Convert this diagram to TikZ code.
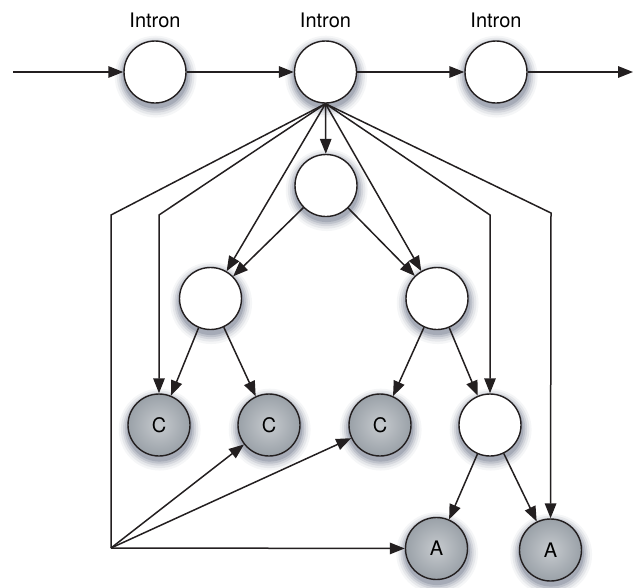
\documentclass[tikz,border=0pt]{standalone}
\usepackage{fontspec}
\setmainfont{TeX Gyre Heros}
\usetikzlibrary{arrows.meta,shadows}
\definecolor{shadowcol}{HTML}{3A4560}
\definecolor{grayin}{HTML}{C6CACE}
\definecolor{grayout}{HTML}{9AA1A8}
\definecolor{ink}{HTML}{231F20}
\begin{document}
\begin{tikzpicture}[x=1pt,y=-1pt,
  % soft halo built from stacked translucent discs
  softshadow/.style={
    general shadow={shadow xshift=0.5pt, shadow yshift=-3.5pt, shadow scale=1.32, fill=shadowcol, opacity=0.05},
    general shadow={shadow xshift=0.5pt, shadow yshift=-3.5pt, shadow scale=1.25, fill=shadowcol, opacity=0.08},
    general shadow={shadow xshift=0.5pt, shadow yshift=-3.5pt, shadow scale=1.18, fill=shadowcol, opacity=0.11},
    general shadow={shadow xshift=0.5pt, shadow yshift=-3.5pt, shadow scale=1.12, fill=shadowcol, opacity=0.14},
    general shadow={shadow xshift=0.5pt, shadow yshift=-3.5pt, shadow scale=1.06, fill=shadowcol, opacity=0.18}
  },
  state/.style={circle, draw=ink, line width=1.4pt, minimum size=62pt,
    inner sep=0pt, fill=white, softshadow},
  term/.style={state, inner color=grayin, outer color=grayout,
    font=\fontsize{20}{24}\selectfont},
  lbl/.style={font=\fontsize{20}{24}\selectfont, inner sep=0pt},
  edge/.style={line width=1.5pt, draw=ink, line join=miter,
    -{Triangle[length=15pt,width=11.5pt]}},
  link/.style={line width=1.5pt, draw=ink, line join=miter}
]
\useasboundingbox (0,0) rectangle (635,587);

% top chain
\node[state] (I1) at (155,72) {};
\node[state] (I2) at (325.5,72) {};
\node[state] (I3) at (496,72) {};
\node[lbl] (t1) at (155,20) {Intron};
\node[lbl] (t2) at (325.5,20) {Intron};
\node[lbl] (t3) at (496,20) {Intron};

% inner nodes
\node[state] (M) at (326,185.5) {};
\node[state] (L) at (210.5,298.5) {};
\node[state] (R) at (437,298.5) {};
\node[state] (W) at (490,425) {};

% terminal nodes
\node[term] (C1) at (159,425) {C};
\node[term] (C2) at (269,425) {C};
\node[term] (C3) at (380,425) {C};
\node[term] (A1) at (436.5,548.5) {A};
\node[term] (A2) at (550.5,550) {A};

% free ends and bends
\coordinate (in0) at (13,72);
\coordinate (out0) at (633,72);
\coordinate (b1) at (111,215);
\coordinate (b2) at (159,215);
\coordinate (b3) at (490,215);
\coordinate (b4) at (551,213);
\coordinate (fan) at (111,548);

% chain arrows
\draw[edge] (in0) -- (I1);
\draw[edge] (I1) -- (I2);
\draw[edge] (I2) -- (I3);
\draw[edge] (I3) -- (out0);

% fan out of the middle intron
\draw[edge] (I2.south) -- (M);
\draw[edge] (I2.south) -- (L);
\draw[edge] (I2.south) -- (R);
\draw[edge] (I2.south) -- (b2) -- (C1);
\draw[link] (I2.south) -- (b1) -- (fan);
\draw[edge] (I2.south) -- (b3) -- (W);
\draw[edge] (I2.south) -- (b4) -- (A2);

% tree edges
\draw[edge] (M) -- (L);
\draw[edge] (M) -- (R);
\draw[edge] (L) -- (C1);
\draw[edge] (L) -- (C2);
\draw[edge] (R) -- (C3);
\draw[edge] (R) -- (W);
\draw[edge] (W) -- (A1);
\draw[edge] (W) -- (A2);

% bottom-left fan
\draw[edge] (fan) -- (C2);
\draw[edge] (fan) -- (C3);
\draw[edge] (fan) -- (A1);
\end{tikzpicture}
\end{document}
